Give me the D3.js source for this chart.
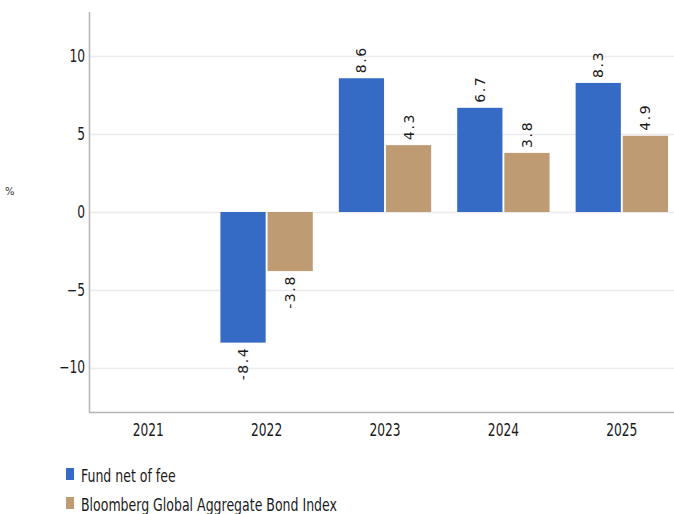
<!DOCTYPE html>
<html>
<head>
<meta charset="utf-8">
<script src="https://cdn.jsdelivr.net/npm/d3@7"></script>
<style>
  body { margin: 0; background: #fff; }
  svg { display: block; }
  .tick text { font-family: "DejaVu Sans Condensed", "Liberation Sans Narrow", sans-serif; font-size: 17px; fill: #1a1a1a; }
</style>
</head>
<body>
<svg id="chart" width="674" height="514"></svg>
<script>
// data
var years = ["2021", "2022", "2023", "2024", "2025"];
var fund = [null, -8.4, 8.6, 6.7, 8.3];
var bench = [null, -3.8, 4.3, 3.8, 4.9];
var seriesNames = ["Fund net of fee", "Bloomberg Global Aggregate Bond Index"];
var seriesColors = ["#356bc4", "#bf9b73"];
var yTicks = [-10, -5, 0, 5, 10];

var svg = d3.select("#chart");
var plotLeft = 89, plotTop = 12, plotBottom = 412, bandStep = 118.4;
var squeeze = 0.8;

var x = d3.scaleBand().domain(years).range([plotLeft, plotLeft + bandStep * years.length]).paddingInner(0.22).paddingOuter(0.11);
var xs = d3.scaleBand().domain([0, 1]).range([0, x.bandwidth()]).paddingInner(0.04);
var y = d3.scaleLinear().domain([-12.86, 12.86]).range([plotBottom, plotTop]);

// grid
svg.append("g").selectAll("line").data(yTicks).enter().append("line")
  .attr("x1", plotLeft).attr("x2", 674)
  .attr("y1", function(d){ return Math.round(y(d)) + 0.5; })
  .attr("y2", function(d){ return Math.round(y(d)) + 0.5; })
  .attr("stroke", "#ececf0").attr("stroke-width", 1.5);

var rows = [];
years.forEach(function(yr, i){
  [fund[i], bench[i]].forEach(function(v, s){
    if (v !== null) rows.push({year: yr, s: s, v: v});
  });
});

svg.append("g").selectAll("rect").data(rows).enter().append("rect")
  .attr("x", function(d){ return x(d.year) + xs(d.s); })
  .attr("width", xs.bandwidth())
  .attr("y", function(d){ return y(Math.max(0, d.v)); })
  .attr("height", function(d){ return Math.abs(y(d.v) - y(0)); })
  .attr("fill", function(d){ return seriesColors[d.s]; });

// value labels, rotated
svg.append("g").selectAll("text").data(rows).enter().append("text")
  .attr("transform", function(d){
    var cx = x(d.year) + xs(d.s) + xs.bandwidth() / 2 + 5;
    var cy = d.v >= 0 ? y(d.v) - 5 : y(d.v) + 4;
    return "translate(" + cx + "," + cy + ") rotate(-90)";
  })
  .attr("text-anchor", function(d){ return d.v >= 0 ? "start" : "end"; })
  .style("font-family", "'DejaVu Sans', Verdana, sans-serif")
  .style("font-size", "14px")
  .style("letter-spacing", "1.6px")
  .attr("fill", "#1a1a1a")
  .text(function(d){ return d.v.toFixed(1); });

// axes
var yAxis = svg.append("g").attr("transform", "translate(" + plotLeft + ",0)")
  .call(d3.axisLeft(y).tickValues(yTicks).tickSize(0).tickPadding(6).tickFormat(function(d){ return d < 0 ? "\u2212" + Math.abs(d) : d; }));
yAxis.select(".domain").remove();
yAxis.selectAll(".tick text").attr("x", -4 / squeeze).attr("transform", "scale(" + squeeze + ",1)");

var xAxis = svg.append("g").attr("transform", "translate(0," + plotBottom + ")")
  .call(d3.axisBottom(x).tickSize(0).tickPadding(12));
xAxis.select(".domain").remove();
xAxis.selectAll(".tick text").attr("transform", "scale(" + squeeze + ",1)");

svg.append("line").attr("x1", plotLeft + 0.5).attr("x2", plotLeft + 0.5).attr("y1", plotTop).attr("y2", plotBottom)
  .attr("stroke", "#b4b4b4").attr("stroke-width", 1.5);
svg.append("line").attr("x1", plotLeft).attr("x2", 674).attr("y1", plotBottom + 0.5).attr("y2", plotBottom + 0.5)
  .attr("stroke", "#b4b4b4").attr("stroke-width", 1.5);

svg.append("text").attr("x", 5).attr("y", 195)
  .style("font-family", "'DejaVu Sans', sans-serif").style("font-size", "10px").attr("fill", "#333").text("%");

// legend
var lg = svg.append("g").selectAll("g").data(seriesNames).enter().append("g")
  .attr("transform", function(d, i){ return "translate(66," + (468 + i * 29) + ")"; });
lg.append("rect").attr("width", 8).attr("height", 12).attr("fill", function(d, i){ return seriesColors[i]; });
lg.append("text").attr("x", 15 / 0.82).attr("y", 14)
  .attr("transform", "scale(0.82,1)")
  .style("font-family", "'DejaVu Sans Condensed', 'Liberation Sans Narrow', sans-serif")
  .style("font-size", "17px").attr("fill", "#1a1a1a").text(function(d){ return d; });
</script>
</body>
</html>
